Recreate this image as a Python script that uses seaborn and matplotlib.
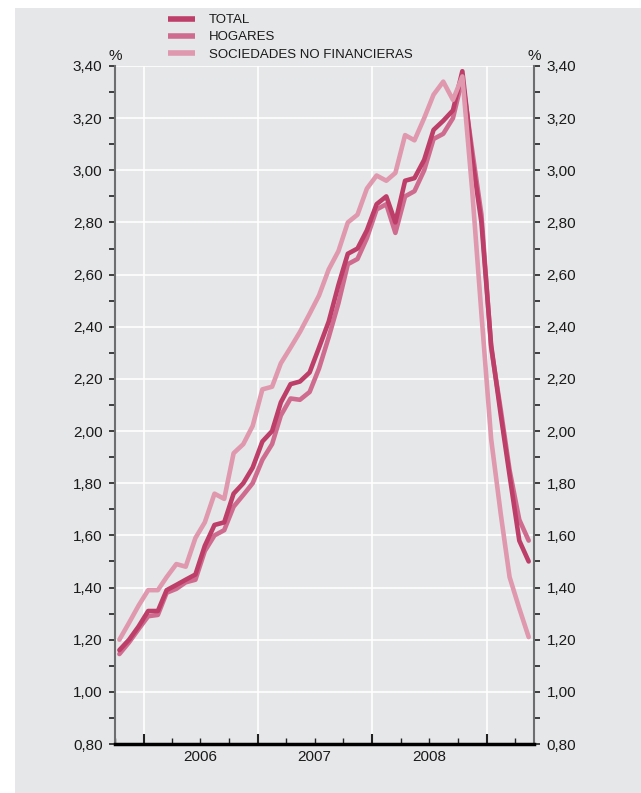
import pandas as pd
import seaborn as sns
import matplotlib.pyplot as plt
import matplotlib.dates as mdates
from matplotlib.ticker import MultipleLocator, FuncFormatter, NullFormatter
from matplotlib.patches import Rectangle
from matplotlib.lines import Line2D

#%% Datos (mensuales, oct-2005 a may-2009)
fechas = pd.date_range('2005-10-01', '2009-05-01', freq='MS') + pd.Timedelta(days=14)

total = [1.16, 1.20, 1.25, 1.31, 1.31, 1.39, 1.41, 1.43, 1.45, 1.56, 1.64, 1.65, 1.76, 1.80,
         1.86, 1.96, 2.00, 2.11, 2.18, 2.19, 2.225, 2.32, 2.42, 2.56,
         2.68, 2.70, 2.77, 2.87, 2.90, 2.80, 2.96, 2.97, 3.04, 3.155,
         3.19, 3.23, 3.38, 3.05, 2.80, 2.33, 2.06, 1.83, 1.58, 1.50]
hogares = [1.145, 1.19, 1.24, 1.29, 1.295, 1.38, 1.395, 1.42, 1.43, 1.54, 1.60, 1.62, 1.71, 1.755,
           1.80, 1.89, 1.95, 2.06, 2.125, 2.12, 2.15, 2.24, 2.36, 2.49,
           2.64, 2.66, 2.74, 2.85, 2.87, 2.76, 2.90, 2.92, 3.00, 3.12,
           3.14, 3.20, 3.35, 3.08, 2.83, 2.32, 2.08, 1.85, 1.66, 1.58]
sociedades = [1.20, 1.265, 1.33, 1.39, 1.39, 1.44, 1.49, 1.48, 1.59, 1.65, 1.76, 1.74, 1.915, 1.95,
              2.02, 2.16, 2.17, 2.26, 2.32, 2.38, 2.45, 2.52, 2.62, 2.69,
              2.80, 2.83, 2.93, 2.98, 2.96, 2.99, 3.135, 3.115, 3.20, 3.29,
              3.34, 3.27, 3.36, 2.93, 2.45, 1.97, 1.68, 1.44, 1.32, 1.21]

series = ['TOTAL', 'HOGARES', 'SOCIEDADES NO FINANCIERAS']
colores = {'TOTAL': '#bd3e68', 'HOGARES': '#cf6b8f', 'SOCIEDADES NO FINANCIERAS': '#df98ae'}
anios = [2006, 2007, 2008]

df = pd.DataFrame({'fecha': fechas, 'TOTAL': total, 'HOGARES': hogares,
                   'SOCIEDADES NO FINANCIERAS': sociedades})
df = df.melt(id_vars='fecha', var_name='serie', value_name='valor')

#%% Estilo
fondo = '#e6e7e9'
texto = '#1a1a1a'
sns.set_style("darkgrid", {"axes.facecolor": fondo, "grid.color": "white",
                           "text.color": texto, "xtick.color": texto, "ytick.color": texto})
plt.rcParams['font.family'] = ['Liberation Sans', 'DejaVu Sans']

fig = plt.figure(figsize=(6.41, 7.93), dpi=100, facecolor='white')
fig.patches.append(Rectangle((15 / 641, 0), 1 - 15 / 641, 1 - 8 / 793, transform=fig.transFigure,
                             facecolor=fondo, edgecolor='none', zorder=-10))
ax = fig.add_axes([115 / 641, 1 - 744 / 793, 419 / 641, 678 / 793])

sns.lineplot(data=df, x='fecha', y='valor', hue='serie',
             hue_order=['HOGARES', 'TOTAL', 'SOCIEDADES NO FINANCIERAS'],
             palette=colores, linewidth=3.3, legend=False, ax=ax)

#%% Ejes
ax.set_xlim(pd.Timestamp('2005-10-01'), pd.Timestamp('2009-06-01'))
ax.set_ylim(0.8, 3.4)
ax.set_xlabel('')
ax.set_ylabel('')

ax.yaxis.set_major_locator(MultipleLocator(0.2))
ax.yaxis.set_minor_locator(MultipleLocator(0.1))
ax.yaxis.set_major_formatter(FuncFormatter(lambda v, p: f"{v:.2f}".replace('.', ',')))
ax.xaxis.set_major_locator(mdates.YearLocator())
ax.xaxis.set_minor_locator(mdates.MonthLocator(bymonth=[1, 4, 7, 10]))
ax.xaxis.set_major_formatter(NullFormatter())

ax.grid(True, which='major', color='white', linewidth=1.2)
ax.grid(False, which='minor')

ax.tick_params(axis='y', which='both', direction='out', length=4, width=1.2, color='#222222',
               left=True, right=True, labelleft=True, labelright=True, labelsize=11, pad=5)
ax.tick_params(axis='x', which='major', direction='in', length=7, width=1.5, color='#222222', bottom=True)
ax.tick_params(axis='x', which='minor', direction='in', length=4, width=1.0, color='#222222', bottom=True)

ax.spines['top'].set_visible(False)
for lado in ['left', 'right']:
    ax.spines[lado].set_visible(True)
    ax.spines[lado].set_color('#6d6e70')
    ax.spines[lado].set_linewidth(1.5)
ax.spines['bottom'].set_visible(True)
ax.spines['bottom'].set_color('black')
ax.spines['bottom'].set_linewidth(2.5)

for anio in anios:
    ax.text(mdates.date2num(pd.Timestamp(f'{anio}-07-01')), -0.009, str(anio),
            transform=ax.get_xaxis_transform(), ha='center', va='top', fontsize=11)

ax.text(0, 1.004, '%', transform=ax.transAxes, ha='center', va='bottom', fontsize=11)
ax.text(1, 1.004, '%', transform=ax.transAxes, ha='center', va='bottom', fontsize=11)

#%% Leyenda
handles = [Line2D([], [], color=colores[s], linewidth=4, solid_capstyle='butt') for s in series]
fig.legend(handles, series, loc='upper left', bbox_to_anchor=(168 / 641, 1 - 14 / 793),
           frameon=False, fontsize=9.5, handlelength=2.05, handletextpad=1.05,
           labelspacing=0.38, borderpad=0, borderaxespad=0)

plt.savefig('out.png', dpi=100, facecolor=fig.get_facecolor())
